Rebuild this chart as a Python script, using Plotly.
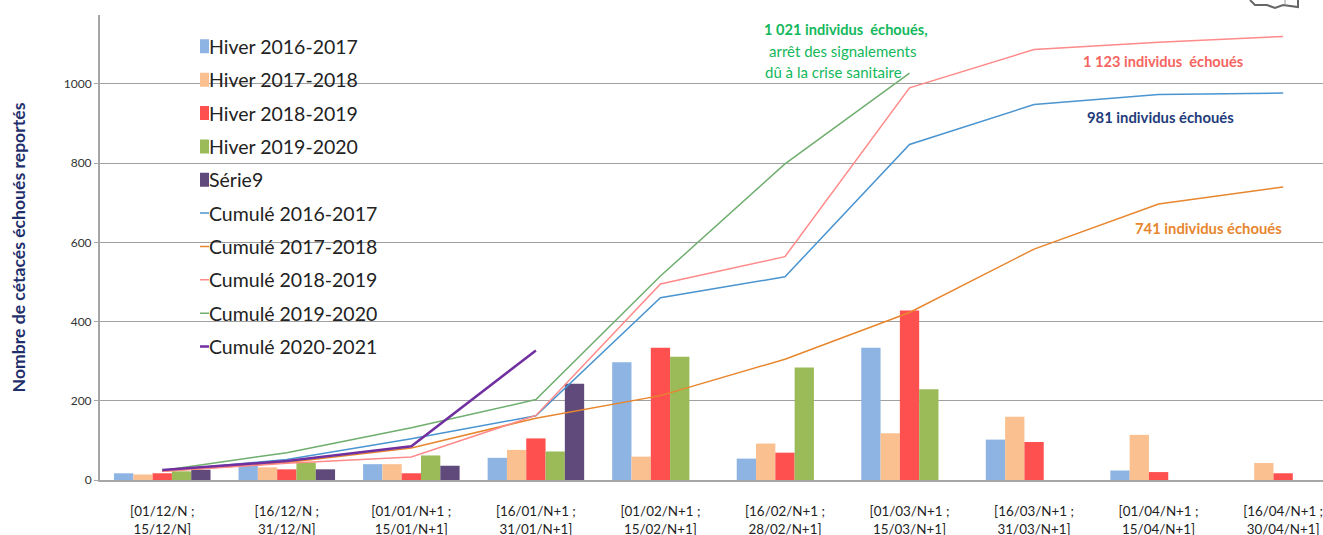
import plotly.graph_objects as go

categories = ["[01/12/N ;<br>15/12/N]", "[16/12/N ;<br>31/12/N]", "[01/01/N+1 ;<br>15/01/N+1]",
              "[16/01/N+1 ;<br>31/01/N+1]", "[01/02/N+1 ;<br>15/02/N+1]", "[16/02/N+1 ;<br>28/02/N+1]",
              "[01/03/N+1 ;<br>15/03/N+1]", "[16/03/N+1 ;<br>31/03/N+1]", "[01/04/N+1 ;<br>15/04/N+1]",
              "[16/04/N+1 ;<br>30/04/N+1]"]

hiver_2016 = [17, 38, 40, 56, 297, 54, 334, 102, 24, 0]
hiver_2017 = [14, 32, 40, 76, 59, 92, 118, 160, 114, 43]
hiver_2018 = [17, 27, 17, 105, 334, 69, 428, 96, 20, 17]
hiver_2019 = [22, 44, 62, 72, 311, 284, 229, None, None, None]
serie9 = [26, 27, 36, 243, None, None, None, None, None, None]

cumul_2016 = [23, 52, 104, 162, 460, 513, 847, 948, 973, 977]
cumul_2017 = [22, 44, 81, 156, 213, 305, 423, 583, 697, 740]
cumul_2018 = [22, 42, 58, 163, 495, 564, 990, 1087, 1105, 1120]
cumul_2019 = [24, 69, 132, 203, 515, 798, 1027, None, None, None]
cumul_2020 = [25, 48, 85, 327, None, None, None, None, None, None]

FONT = "Lato"
L, T, PW, PH = 100, 15, 1223, 465.5


def px(x):
    return (x - L) / PW


def py(y):
    return 1 - (y - T) / PH


bars = [("Hiver 2016-2017", hiver_2016, "#8eb4e3"), ("Hiver 2017-2018", hiver_2017, "#fac090"),
        ("Hiver 2018-2019", hiver_2018, "#ff5050"), ("Hiver 2019-2020", hiver_2019, "#9bbb59"),
        ("Série9", serie9, "#604a7b")]
lines = [("Cumulé 2016-2017", cumul_2016, "#4a94d0", 1.5), ("Cumulé 2017-2018", cumul_2017, "#e8862e", 1.5),
         ("Cumulé 2018-2019", cumul_2018, "#ff8a8a", 1.5), ("Cumulé 2019-2020", cumul_2019, "#6fae6f", 1.5),
         ("Cumulé 2020-2021", cumul_2020, "#7030a0", 2.5)]

fig = go.Figure()
for name, vals, col in bars:
    fig.add_bar(x=categories, y=vals, name=name, marker_color=col, marker_line_width=0, legendgroup=name)
for name, vals, col, w in lines:
    fig.add_scatter(x=categories, y=vals, name=name, mode="lines", line=dict(color=col, width=w), legendgroup=name)

notes = [
    ("<b>1 021 individus  échoués,</b>", "#13b85c", 846, 30, 14.6),
    ("arrêt des signalements", "#13b85c", 842, 51, 15),
    ("dû à la crise sanitaire", "#13b85c", 833, 72, 15),
    ("<b>1 123 individus  échoués</b>", "#f4655f", 1163, 62, 14.6),
    ("<b>981 individus échoués</b>", "#1f3c7a", 1160, 117, 14.8),
    ("<b>741 individus échoués</b>", "#e8862e", 1208, 228, 14.8),
]
for txt, col, x, y, size in notes:
    fig.add_annotation(text=txt, x=px(x), y=py(y), xref="paper", yref="paper", showarrow=False,
                       xanchor="center", yanchor="middle", font=dict(family=FONT, size=size, color=col))

# fragment of the map logo cut by the top edge of the picture
logo_x = [1250, 1255, 1267, 1275, 1283, 1298, 1298]
logo_y = [0, 5, 5, 8, 5, 7, 0]
path = "M" + " L".join(f"{px(a):.5f},{py(b):.5f}" for a, b in zip(logo_x, logo_y))
fig.add_shape(type="path", path=path, xref="paper", yref="paper", line=dict(color="#666666", width=2))
fig.add_shape(type="line", xref="paper", yref="paper", x0=px(1285), x1=px(1285), y0=py(0), y1=py(5),
              line=dict(color="#999999", width=1))

fig.update_layout(
    width=1323, height=535, autosize=False, paper_bgcolor="white", plot_bgcolor="white",
    margin=dict(l=L, r=0, t=T, b=54.5), barmode="group", bargap=0.225, bargroupgap=0,
    font=dict(family=FONT, color="#222"),
    legend=dict(x=px(169), y=py(27.2), xanchor="left", yanchor="top", bgcolor="rgba(0,0,0,0)",
                font=dict(family=FONT, size=19.5, color="#222"), tracegroupgap=5, itemwidth=30),
    xaxis=dict(range=[-0.5, 9.32], showgrid=False, showline=True, linecolor="#a6a6a6", linewidth=2,
               ticks="outside", ticklen=18, tickcolor="rgba(0,0,0,0)", tickangle=0, automargin=False,
               tickfont=dict(family=FONT, size=13.4, color="#222")),
    yaxis=dict(range=[0, 1174], tickvals=[0, 200, 400, 600, 800, 1000], showgrid=True, gridcolor="#a0a0a0",
               gridwidth=1.2, showline=True, linecolor="#a6a6a6", linewidth=2, ticks="outside", ticklen=4,
               tickcolor="#a6a6a6", zeroline=False, tickfont=dict(family=FONT, size=12, color="#333"),
               automargin=False,
               title=dict(text="<b>Nombre de cétacés échoués reportés</b>", standoff=34,
                          font=dict(family=FONT, size=17.6, color="#1f2f6b"))),
)

post = """
document.body.style.margin='0';
document.querySelectorAll('.legend .legendlines path').forEach(function(p){p.setAttribute('d','M31,0h9');});
document.querySelectorAll('.legend .legendpoints path').forEach(function(p){
  p.setAttribute('d','M4.5,7H-4.5V-7H4.5Z');p.setAttribute('transform','translate(35.5,0)');});
"""
fig.write_html("out.html", post_script=post, config=dict(displayModeBar=False))
